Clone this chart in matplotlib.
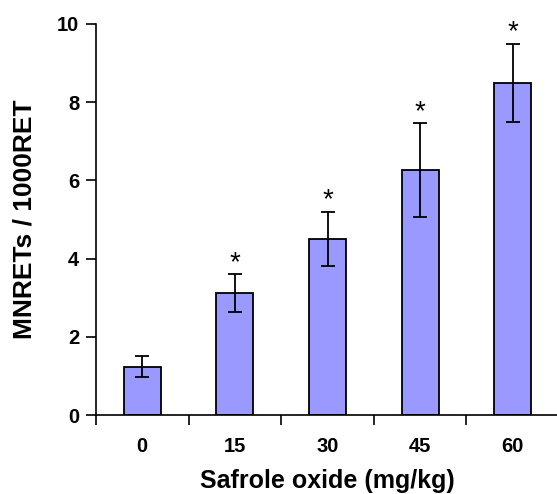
import numpy as np
import matplotlib.pyplot as plt

doses = ['0', '15', '30', '45', '60']
means = [1.24, 3.12, 4.5, 6.26, 8.5]
errors = [0.28, 0.49, 0.7, 1.2, 1.0]
signif = ['', '*', '*', '*', '*']

plt.rcParams['font.family'] = ['Liberation Sans', 'DejaVu Sans']
plt.rcParams['font.weight'] = 'bold'

fig = plt.figure(figsize=(5.57, 4.94), dpi=100)
ax = fig.add_axes([96 / 557, 79 / 494, 463 / 557, 391 / 494])

x = np.arange(len(doses))
ax.bar(x, means, width=0.4, color='#9999ff', edgecolor='black', linewidth=1.3, zorder=2)
ax.errorbar(x, means, yerr=errors, fmt='none', ecolor='black', elinewidth=1.3,
            capsize=4.8, capthick=1.3, zorder=3)

for xi, m, e, s in zip(x, means, errors, signif):
    if s:
        ax.text(xi, m + e - 0.05, s, ha='center', va='bottom', fontsize=20,
                fontweight='normal')

ax.set_xlim(-0.5, 4.5)
ax.set_ylim(0, 10)
ax.set_yticks(np.arange(0, 11, 2))
ax.set_xticks(x)
ax.set_xticklabels(doses)
ax.set_xticks(np.arange(-0.5, 4.6, 1), minor=True)
ax.tick_params(axis='x', which='major', length=0, pad=16, labelsize=14.5)
ax.tick_params(axis='x', which='minor', length=7, width=1.2, direction='out')
ax.tick_params(axis='y', length=7, width=1.2, direction='out', pad=5, labelsize=14.5)

ax.spines['top'].set_visible(False)
ax.spines['right'].set_visible(False)
ax.spines['left'].set_linewidth(1.2)
ax.spines['bottom'].set_linewidth(1.2)

ax.set_xlabel('Safrole oxide (mg/kg)', fontsize=18, fontweight='bold', labelpad=9)
ax.set_ylabel('MNRETs / 1000RET', fontsize=19, fontweight='bold', labelpad=15)

fig.savefig('out.png', dpi=100)
